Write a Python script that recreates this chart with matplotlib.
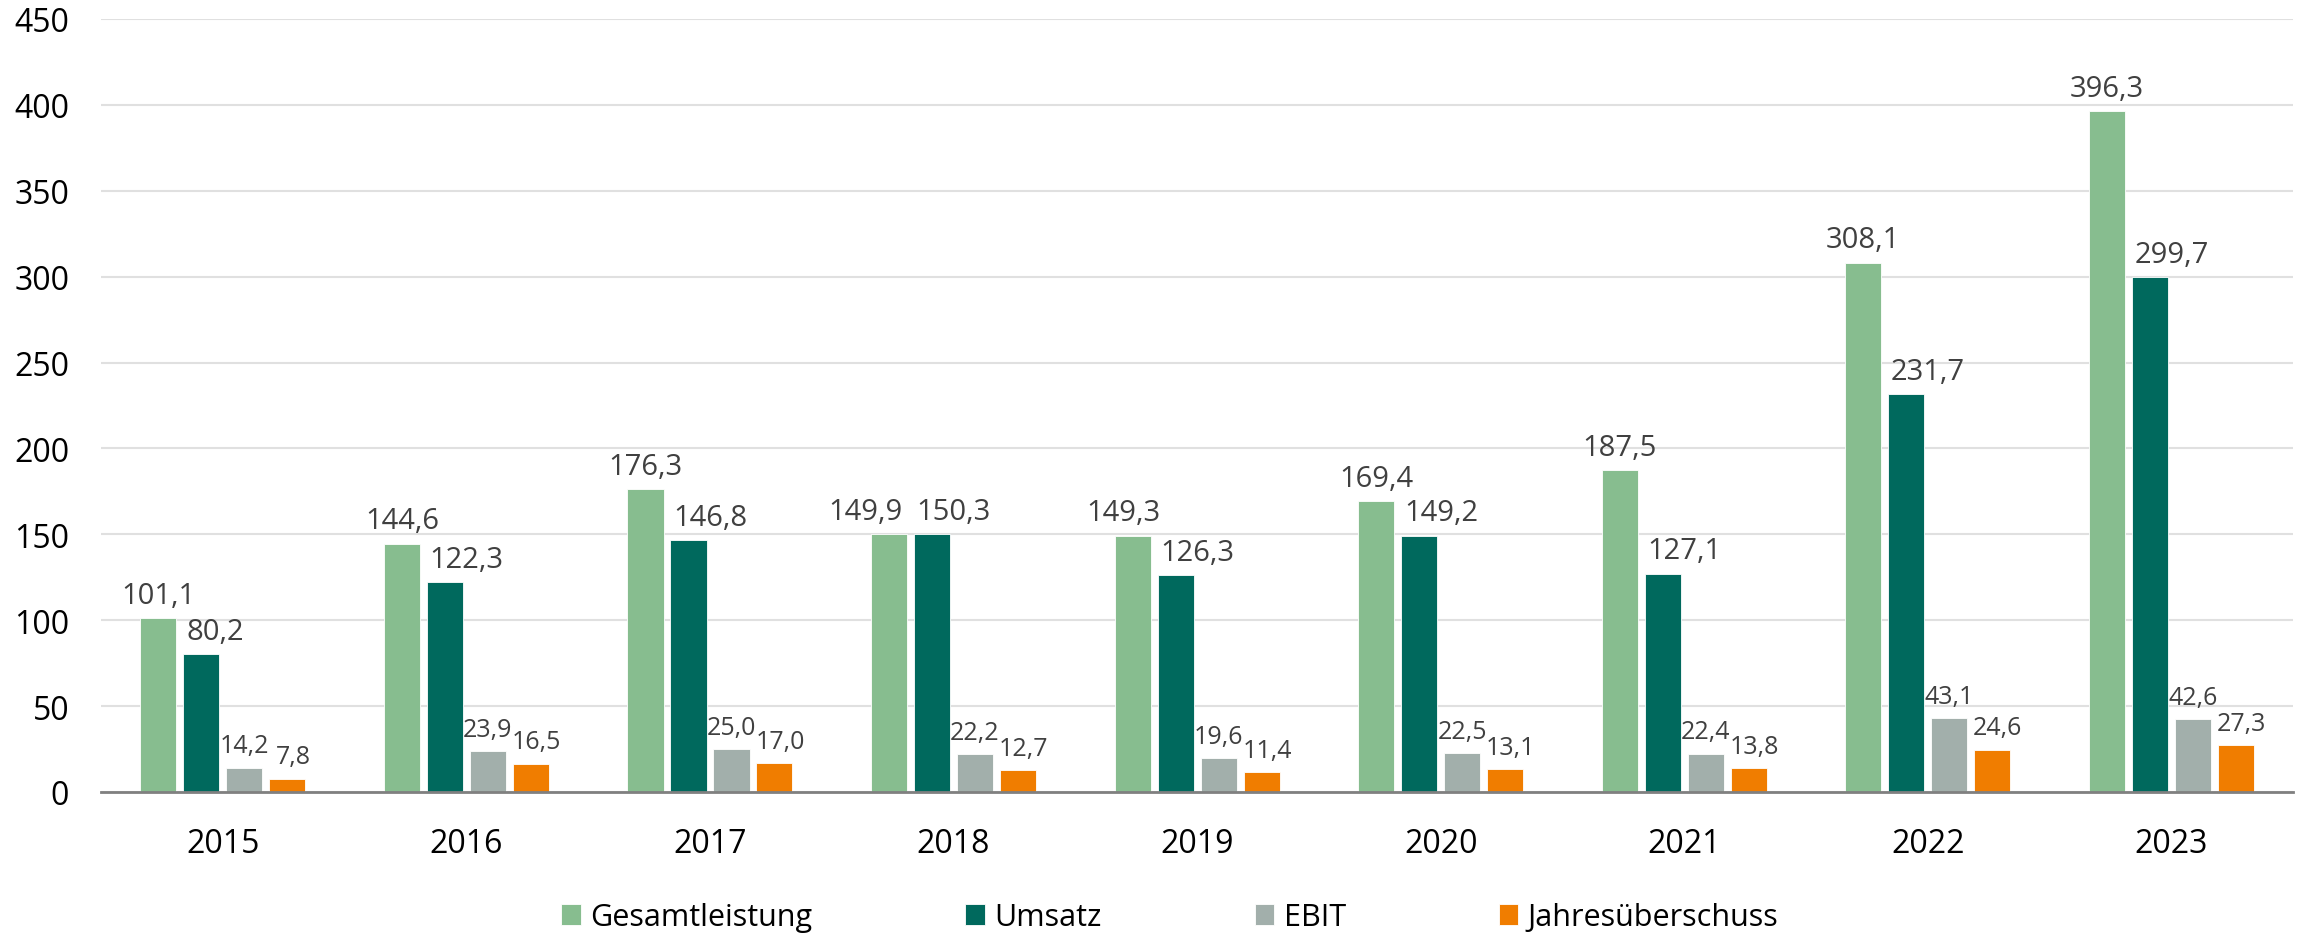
import numpy as np
import matplotlib
matplotlib.use("Agg")
import matplotlib.pyplot as plt

years = ["2015", "2016", "2017", "2018", "2019", "2020", "2021", "2022", "2023"]
gesamtleistung = [101.1, 144.6, 176.3, 149.9, 149.3, 169.4, 187.5, 308.1, 396.3]
umsatz = [80.2, 122.3, 146.8, 150.3, 126.3, 149.2, 127.1, 231.7, 299.7]
ebit = [14.2, 23.9, 25.0, 22.2, 19.6, 22.5, 22.4, 43.1, 42.6]
jahresueberschuss = [7.8, 16.5, 17.0, 12.7, 11.4, 13.1, 13.8, 24.6, 27.3]

# name, values, colour, label size, label alignment, label x shift (pt)
series = [
    ("Gesamtleistung", gesamtleistung, "#87bd8f", 21, "center", 0),
    ("Umsatz", umsatz, "#00695d", 21, "left", 2),
    ("EBIT", ebit, "#a2afab", 18, "center", 0),
    ("Jahresüberschuss", jahresueberschuss, "#f07d00", 18, "center", 4),
]
# labels that Excel pushed aside to avoid overlaps
nudge = {("Gesamtleistung", "2018"): -17, ("Gesamtleistung", "2019"): -7}

plt.rcParams['font.family'] = ['Open Sans', 'DejaVu Sans']

fig = plt.figure(figsize=(23.03, 9.37), dpi=100)
ax = fig.add_axes([0.0439, 0.1537, 0.9518, 0.825])

x = np.arange(len(years))
step = 0.1765
width = 0.148
for i, (name, vals, color, fs, ha, dx) in enumerate(series):
    pos = x + (i - 1.5) * step
    bars = ax.bar(pos, vals, width, color=color, label=name, zorder=3,
                  edgecolor="white", linewidth=0.6)
    for b, v, yr in zip(bars, vals, years):
        xa = b.get_x() if ha == "left" else b.get_x() + b.get_width() / 2
        ax.annotate(f"{v:.1f}".replace(".", ","), (xa, v),
                    xytext=(dx + nudge.get((name, yr), 0), 11),
                    textcoords="offset points",
                    ha=ha, va="baseline", fontsize=fs, color="#404040")

ax.set_xlim(-0.5, len(years) - 0.5)
ax.set_ylim(0, 450)
ax.set_yticks(np.arange(0, 451, 50))
ax.set_xticks(x)
ax.set_xticklabels(years)
ax.tick_params(axis="both", length=0, labelsize=23, colors="black")
ax.tick_params(axis="y", pad=23)
ax.tick_params(axis="x", pad=25)
ax.grid(axis="y", color="#e0e0e0", linewidth=1.5, zorder=0)
for s in ["top", "right", "left"]:
    ax.spines[s].set_visible(False)
ax.spines["bottom"].set_color("#808080")
ax.spines["bottom"].set_linewidth(2)
ax.spines["bottom"].set_zorder(4)

fig.legend(loc="center", bbox_to_anchor=(0.508, 0.02), ncol=4, frameon=False,
           fontsize=22, handlelength=0.65, handleheight=0.65, handletextpad=0.3,
           columnspacing=5.0)

fig.savefig("out.png", dpi=100)
